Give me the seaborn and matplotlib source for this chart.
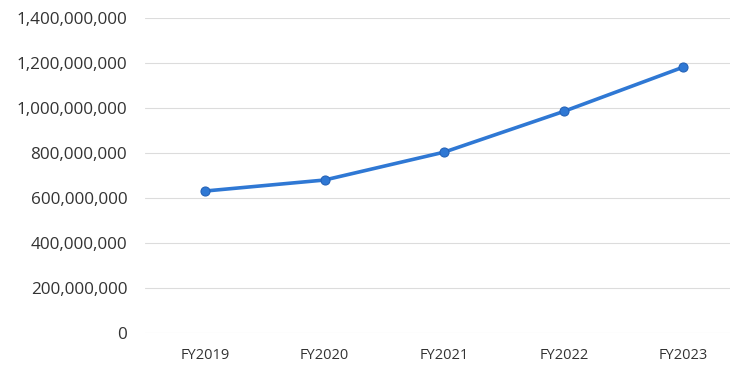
import matplotlib
matplotlib.use("Agg")
import matplotlib.pyplot as plt
import matplotlib.ticker as mticker
import seaborn as sns
import pandas as pd

# chart data
years = ["FY2019", "FY2020", "FY2021", "FY2022", "FY2023"]
values = [631_000_000, 680_000_000, 804_000_000, 985_000_000, 1_182_000_000]

df = pd.DataFrame({"year": years, "value": values})

sns.set_style("white")
plt.rcParams["font.family"] = ["Open Sans", "DejaVu Sans"]

fig = plt.figure(figsize=(7.3, 3.69), dpi=100)
ax = fig.add_axes([0.199, 0.0976, 0.819, 0.8535])

sns.lineplot(data=df, x="year", y="value", ax=ax, color="#2f78d4",
             linewidth=2.6, marker="o", markersize=6.5,
             markeredgecolor="#2563b8", markeredgewidth=0.8, sort=False)

ax.set_xlim(-0.5, 4.5)
ax.set_ylim(0, 1_400_000_000)
ax.yaxis.set_major_locator(mticker.MultipleLocator(200_000_000))
ax.yaxis.set_major_formatter(mticker.FuncFormatter(lambda v, p: f"{int(v):,}"))
ax.grid(axis="y", color="#dcdcdc", linewidth=0.8)
ax.set_axisbelow(True)
for s in ax.spines.values():
    s.set_visible(False)
ax.tick_params(axis="y", length=0, pad=13, labelsize=12.3, labelcolor="#333333")
ax.tick_params(axis="x", length=0, pad=11, labelsize=10.5, labelcolor="#333333")
ax.set_xlabel("")
ax.set_ylabel("")

fig.savefig("out.png", dpi=100)
